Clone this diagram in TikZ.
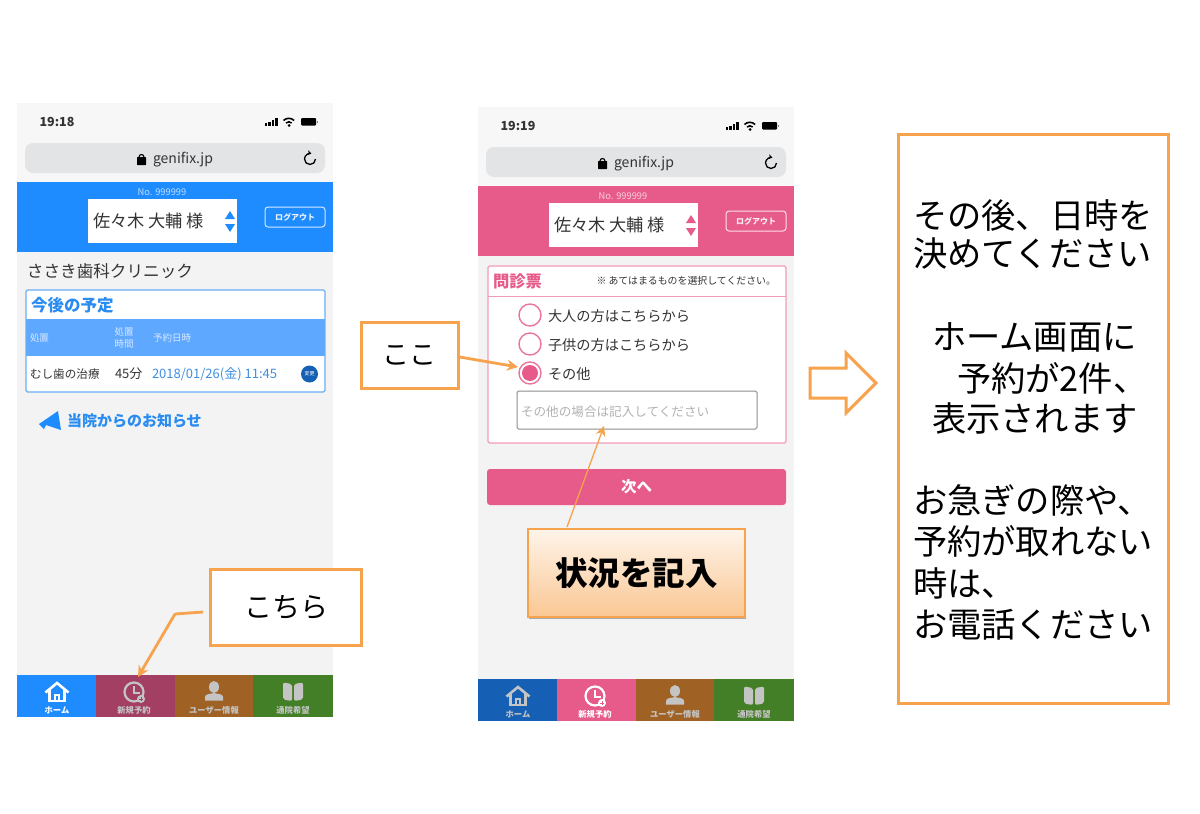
\documentclass[tikz,border=0pt]{standalone}
\usepackage{fontspec}
\setmainfont{Noto Sans CJK JP}
\usetikzlibrary{arrows.meta,shadows}

\definecolor{pagebg}{HTML}{F3F3F3}
\definecolor{barbg}{HTML}{F7F7F7}
\definecolor{urlbg}{HTML}{E3E4E6}
\definecolor{hblue}{HTML}{1E8CFF}
\definecolor{tblue}{HTML}{2A8CF0}
\definecolor{bandblue}{HTML}{5FA8FF}
\definecolor{dateblue}{HTML}{3F8FE0}
\definecolor{dkblue}{HTML}{1560B4}
\definecolor{pink}{HTML}{E65B8A}
\definecolor{ltpink}{HTML}{F39AB8}
\definecolor{wine}{HTML}{A33F63}
\definecolor{brown}{HTML}{A06224}
\definecolor{leaf}{HTML}{437F26}
\definecolor{orange}{HTML}{F7A24C}
\definecolor{ink}{HTML}{333333}
\definecolor{dim}{HTML}{C4C4C4}

\newcommand{\fsz}[1]{\fontsize{#1}{#1}\selectfont}

% prefix, time, header colour, tab 1, tab 2, icon 1, icon 2, shift
\newcommand{\phoneframe}[8]{
\begin{scope}[shift={(#8)},name prefix=#1-]
\fill[barbg] (17,103) rectangle (333,182);
\fill[pagebg] (17,252) rectangle (333,675);
\fill[urlbg,rounded corners=8pt] (25,143) rectangle (325,173);
\node[lbl,font=\fsz{12.5}\bfseries,text=ink] (time) at (57,122) {#2};
% status icons
\foreach \bx/\bh in {264.5/3,268/4.5,271.5/6.5,275/8.5}
  \fill[black] (\bx,126) rectangle ++(2.8,-\bh);
\draw[black,line width=1.6pt] (283.5,120.5) arc (225:315:7.5);
\draw[black,line width=1.6pt] (286,123) arc (225:315:4);
\fill[black] (289,125.5) circle (1.5);
\fill[black,rounded corners=1pt] (301,118) rectangle (316,125.5);
\fill[black!50] (317,120.5) rectangle (318.2,123);
% address bar
\fill[black,rounded corners=.5pt] (137,157) rectangle (146,165);
\draw[black,line width=1.1pt] (139,157) arc (180:360:2.5);
\node[lbl,font=\fsz{14},text=ink] (url) at (183,160) {genifix.jp};
\draw[black,line width=1.3pt,-{Stealth[length=4pt,width=5pt]}] (315.5,159) arc (0:285:5.5);
% header
\fill[#3] (17,182) rectangle (333,252);
\node[lbl,font=\fsz{9.3},text=white!70!#3] (no) at (162,192) {No. 999999};
\fill[white] (88,199) rectangle (237,243);
\node[lbl,anchor=west,font=\fsz{17.2},text=ink] (user) at (93,221) {佐々木 大輔 様};
\fill[#3] (230,211) -- (235,219) -- (225,219) -- cycle;
\fill[#3] (230,232) -- (235,224) -- (225,224) -- cycle;
\draw[white!80!#3,line width=1pt,rounded corners=3pt] (265,207) rectangle (325,227);
\node[lbl,font=\fsz{8}\bfseries,text=white!90!#3] (logout) at (295,217) {ログアウト};
% tab bar
\fill[#4] (17,675) rectangle (96,717);
\fill[#5] (96,675) rectangle (175,717);
\fill[brown] (175,675) rectangle (253,717);
\fill[leaf] (253,675) rectangle (333,717);
\node[lbl,font=\fsz{8.3}\bfseries,text=#6] (tabhome) at (57,710) {ホーム};
\node[lbl,font=\fsz{8.3}\bfseries,text=#7] (tabnew) at (134,710) {新規予約};
\node[lbl,font=\fsz{8.3}\bfseries,text=dim] (tabuser) at (214,710) {ユーザー情報};
\node[lbl,font=\fsz{8.3}\bfseries,text=dim] (tabhope) at (293,710) {通院希望};
% tab icons
\draw[#6,line width=2.6pt,line join=miter] (45.5,692.5) -- (57,683) -- (68.5,692.5);
\draw[#6,line width=2.4pt] (49.5,690) -- (49.5,701) -- (64.5,701) -- (64.5,690);
\draw[#6,line width=1.8pt] (55,701) -- (55,695) -- (59,695) -- (59,701);
\draw[#7,line width=2.2pt] (134,692) circle (9.5);
\draw[#7,line width=1.8pt] (134,685.5) -- (134,693) -- (140,693);
\fill[#7] (141,699) circle (4);
\draw[#5,line width=.9pt] (139,699) -- (143,699) (141,697) -- (141,701);
\fill[dim] (214,687) ellipse (5 and 6);
\fill[dim] (205,700.5) -- (205,697) .. controls (205,694) and (210,694) .. (214,693) .. controls (218,694) and (223,694) .. (223,697) -- (223,700.5) -- cycle;
\fill[dim,rounded corners=2pt] (283,682.5) -- (292,684) -- (292,701) -- (283,699.5) -- cycle;
\fill[dim,rounded corners=2pt] (303,682.5) -- (294,684) -- (294,701) -- (303,699.5) -- cycle;
\end{scope}
}

\begin{document}
\begin{tikzpicture}[x=1pt,y=-1pt]
\tikzstyle{lbl}=[inner sep=0pt,outer sep=0pt]
\tikzstyle{callout}=[draw=orange,line width=3pt,fill=white,inner sep=0pt,text=black]
\tikzstyle{leader}=[draw=orange,line width=2.8pt,-{Stealth[length=11pt,width=11pt]}]
\tikzstyle{radio}=[draw=pink!85!white,line width=1.4pt,fill=white,circle,minimum size=22pt,inner sep=0pt]

\useasboundingbox (0,0) rectangle (1200,814);
\fill[white] (0,0) rectangle (1200,814);

\phoneframe{L}{19:18}{hblue}{hblue}{wine}{white}{dim}{0,0}
\phoneframe{R}{19:19}{pink}{dkblue}{pink}{dim}{white}{461,4}

% left phone
\node[lbl,anchor=west,font=\fsz{16.6},text=ink] (clinic) at (27,271) {ささき歯科クリニック};
\fill[white] (26,290) rectangle (325,392);
\fill[bandblue] (26,319) rectangle (325,356);
\draw[tblue!70!white,line width=1.2pt,rounded corners=1.5pt] (26,290) rectangle (325,392);
\node[lbl,anchor=west,font=\fsz{16.5}\bfseries,text=tblue] (plan) at (31,305) {今後の予定};
\node[lbl,anchor=west,font=\fsz{9.5},text=white!75!bandblue] (hcare) at (30,338) {処置};
\node[lbl,font=\fsz{9.5},text=white!75!bandblue,align=center] (htime) at (124,338) {処置\\[2pt]時間};
\node[lbl,anchor=west,font=\fsz{9.5},text=white!75!bandblue] (hdate) at (153,338) {予約日時};
\node[lbl,anchor=west,font=\fsz{11.6},text=ink] (care) at (30,374) {むし歯の治療};
\node[lbl,anchor=west,font=\fsz{13},text=ink] (mins) at (115,374) {45分};
\node[lbl,anchor=west,font=\fsz{13},text=dateblue] (date) at (152,374) {2018/01/26(金) 11:45};
\node[circle,fill=dkblue,minimum size=17pt,inner sep=0pt,font=\fsz{5},text=white] (change) at (309.5,374) {変更};
\fill[hblue] (39,424) -- (58,411) -- (61,430) -- (46,425) -- (44,429) -- cycle;
\node[lbl,anchor=west,font=\fsz{15}\bfseries,text=tblue] (news) at (67,421) {当院からのお知らせ};

% right phone
\fill[white] (488,266) rectangle (786,443);
\draw[ltpink,line width=1.2pt,rounded corners=1.5pt] (488,266) rectangle (786,443);
\draw[ltpink,line width=1pt] (488,296) -- (786,296);
\node[lbl,anchor=west,font=\fsz{16.3}\bfseries,text=pink] (monshin) at (493,281) {問診票};
\node[lbl,anchor=east,font=\fsz{9.9},text=ink] (note) at (776,281) {※ あてはまるものを選択してください。};
\node[radio] (adult) at (530,315) {};
\node[radio] (child) at (530,344) {};
\node[radio] (other) at (530,373) {};
\fill[pink] (other) circle (8);
\node[lbl,anchor=west,font=\fsz{14.2},text=ink] (adulttxt) at (548,316) {大人の方はこちらから};
\node[lbl,anchor=west,font=\fsz{14.2},text=ink] (childtxt) at (548,345) {子供の方はこちらから};
\node[lbl,anchor=west,font=\fsz{14.2},text=ink] (othertxt) at (548,374) {その他};
\node[draw=black!45,line width=1pt,rounded corners=1.5pt,fill=white,minimum width=240pt,minimum height=38pt,inner sep=0pt] (input) at (637,410) {};
\node[lbl,anchor=west,font=\fsz{12.6},text=black!30] (inputtxt) at (521,412) {その他の場合は記入してください};
\node[fill=pink,rounded corners=3pt,minimum width=299pt,minimum height=36pt,inner sep=0pt,font=\fsz{15.5}\bfseries,text=white] (next) at (636.5,487) {次へ};

% callouts
\node[callout,minimum width=151.5pt,minimum height=76pt,font=\fsz{28}] (kochira) at (286,607) {こちら};
\coordinate (kbend) at (175,614);
\coordinate (ktip) at (138,677);
\coordinate (kstart) at (203,612);
\draw[leader,rounded corners=1pt] (kstart) -- (kbend) -- (ktip);

\node[callout,minimum width=97pt,minimum height=66pt,font=\fsz{27}] (koko) at (409.5,355) {\raisebox{-3pt}{ここ}};
\coordinate (kokotip) at (518,367);
\draw[leader] ([yshift=-2pt]koko.east) -- (kokotip);

\node[draw=orange,line width=1.3pt,minimum width=217pt,minimum height=88pt,inner sep=0pt,
  top color=orange!12!white,bottom color=orange!60!white,
  drop shadow={shadow xshift=.6pt,shadow yshift=-1.6pt,opacity=.3,fill=black},
  font=\fsz{32.5}\bfseries,text=black] (kinyu) at (636.5,573) {状況を記入};
\coordinate (kinyustart) at (567,527);
\coordinate (inputtip) at (604,426);
\draw[draw=orange,line width=1.3pt,-{Stealth[length=10pt,width=10pt]}] (kinyustart) -- (inputtip);

% big arrow
\draw[orange,line width=3pt,fill=white,line join=miter] (810,368) -- (846,368) -- (846,353) -- (876,383) -- (846,413) -- (846,398) -- (810,398) -- cycle;

% right panel
\node[draw=orange,line width=3pt,fill=white,minimum width=270pt,minimum height=569pt,inner sep=0pt] (panel) at (1033,418.5) {};
\tikzstyle{says}=[lbl,anchor=west,font=\fsz{34.3},text=black]
\node[says] (s1) at (913,215) {その後、日時を};
\node[says] (s2) at (913,254) {決めてください};
\node[says] (s3) at (932,337) {ホーム画面に};
\node[says] (s4) at (957,378) {予約が2件、};
\node[says] (s5) at (932,418) {表示されます};
\node[says] (s6) at (913,500) {お急ぎの際や、};
\node[says] (s7) at (913,541) {予約が取れない};
\node[says] (s8) at (913,583) {時は、};
\node[says] (s9) at (913,625) {お電話ください};
\end{tikzpicture}
\end{document}
